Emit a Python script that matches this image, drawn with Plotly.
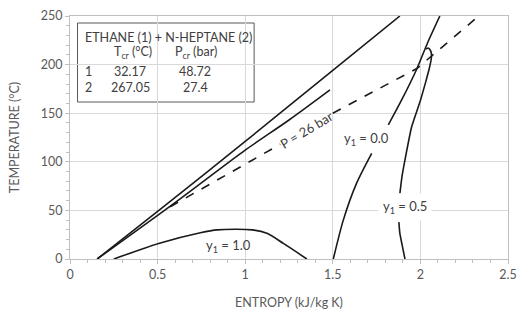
import plotly.graph_objects as go

# ---- data ----
upper_s = [0.155, 0.5, 1.0, 1.5, 1.883]
upper_t = [0, 49, 121, 194, 250]

short_s = [0.155, 0.6, 1.0, 1.25, 1.484]
short_t = [0, 58, 112, 143, 174]

p26_s = [0.572, 1.0, 1.2, None, 1.5, 1.98, 2.32]
p26_t = [53.8, 97, 118, None, 150, 196, 248]

y00_s = [1.503, 1.56, 1.636, 1.722, None, 1.817, 1.893, 1.978, 2.04, 2.111]
y00_t = [0, 40, 78, 108.7, None, 138, 163.6, 195, 222, 250]

y05_s = [1.912, 1.895, 1.883, 1.877, None, 1.883, 1.895, 1.912, 1.95, 2.0, 2.03, 2.052, 2.062, 2.063, 2.056, 2.044, 2.032]
y05_t = [0, 15, 26, 38, None, 67.6, 85, 102, 136, 163, 182, 197, 206, 211, 215, 217, 216]

y10_s = [0.25, 0.506, 0.744, 0.84, 1.04, 1.124, 1.218, 1.352]
y10_t = [0, 16, 27, 30, 30, 26.4, 16, 0]

components = ["1", "2"]
tcr = ["32.17", "267.05"]
pcr = ["48.72", "27.4"]

x_ticks = [0, 0.5, 1, 1.5, 2, 2.5]
x_tick_labels = ["0", "0.5", "1", "1.5", "2", "2.5"]
y_ticks = [0, 50, 100, 150, 200, 250]

FONT = "Lato"
TXT = "#404040"
LINE = "#1a1a1a"

fig = go.Figure()

def add_line(xs, ys, dash="solid", shape="spline", smoothing=0.8):
    fig.add_trace(go.Scatter(x=xs, y=ys, mode="lines",
                             line=dict(color=LINE, width=1.6, dash=dash, shape=shape, smoothing=smoothing),
                             connectgaps=False, showlegend=False, hoverinfo="skip"))

add_line(upper_s, upper_t)
add_line(short_s, short_t)
add_line(p26_s, p26_t, dash="dash", shape="linear")
add_line(y00_s, y00_t)
add_line(y05_s, y05_t, smoothing=0.4)
add_line(y10_s, y10_t)

ann = []
lf = dict(family=FONT, size=13, color=TXT)
ann.append(dict(x=1.348, y=133, text="P = 26 bar", textangle=-31, showarrow=False, font=lf))
ann.append(dict(x=1.693, y=123, text="y<sub>1</sub> = 0.0", showarrow=False, font=lf))
ann.append(dict(x=1.912, y=53, text="y<sub>1</sub> = 0.5", showarrow=False, bgcolor="white",
                borderpad=4, font=lf))
ann.append(dict(x=0.905, y=13, text="y<sub>1</sub> = 1.0", showarrow=False, font=lf))

tf = dict(family=FONT, size=12.5, color=TXT)
ann.append(dict(x=0.072, y=228.4, text="ETHANE (1) + N-HEPTANE (2)", xanchor="left", showarrow=False, font=tf))
ann.append(dict(x=0.362, y=212, text="T<sub>cr</sub> (°C)", showarrow=False, font=tf))
ann.append(dict(x=0.721, y=212, text="P<sub>cr</sub> (bar)", showarrow=False, font=tf))
rows_t = [193.4, 176]
for i in range(len(components)):
    ann.append(dict(x=0.072, y=rows_t[i], text=components[i], xanchor="left", showarrow=False, font=tf))
    ann.append(dict(x=0.345, y=rows_t[i], text=tcr[i], showarrow=False, font=tf))
    ann.append(dict(x=0.715, y=rows_t[i], text=pcr[i], showarrow=False, font=tf))

fig.add_shape(type="rect", xref="x", yref="y", x0=0.043, x1=1.051, y0=161.5, y1=242.8,
              line=dict(color="#595959", width=1), fillcolor="white", layer="below")

axis_common = dict(showgrid=True, gridcolor="#d9d9d9", gridwidth=1,
                   showline=True, linecolor="#bfbfbf", linewidth=1, mirror=True,
                   ticks="outside", ticklen=4, tickcolor="#bfbfbf",
                   tickfont=dict(family=FONT, size=12.5, color="#595959"),
                   ticklabeloverflow="allow",
                   zeroline=False, automargin=False)

fig.update_layout(
    width=518, height=310,
    margin=dict(l=70, r=10, t=16, b=51),
    paper_bgcolor="white", plot_bgcolor="white",
    annotations=ann,
    xaxis=dict(range=[0, 2.5], tickvals=x_ticks, ticktext=x_tick_labels,
               minor=dict(dtick=0.1, ticks="outside", ticklen=3, tickcolor="#bfbfbf", showgrid=False),
               title=dict(text="ENTROPY (kJ/kg K)", font=dict(family=FONT, size=12.5, color="#595959"), standoff=18),
               **axis_common),
    yaxis=dict(range=[0, 250], tickvals=y_ticks,
               minor=dict(dtick=10, ticks="outside", ticklen=3, tickcolor="#bfbfbf", showgrid=False),
               title=dict(text="TEMPERATURE (°C)", font=dict(family=FONT, size=12.5, color="#595959"), standoff=18),
               **axis_common),
)

fig.write_html("out.html", config={"displayModeBar": False},
               post_script="document.body.style.margin='0';document.body.style.overflow='hidden';")
